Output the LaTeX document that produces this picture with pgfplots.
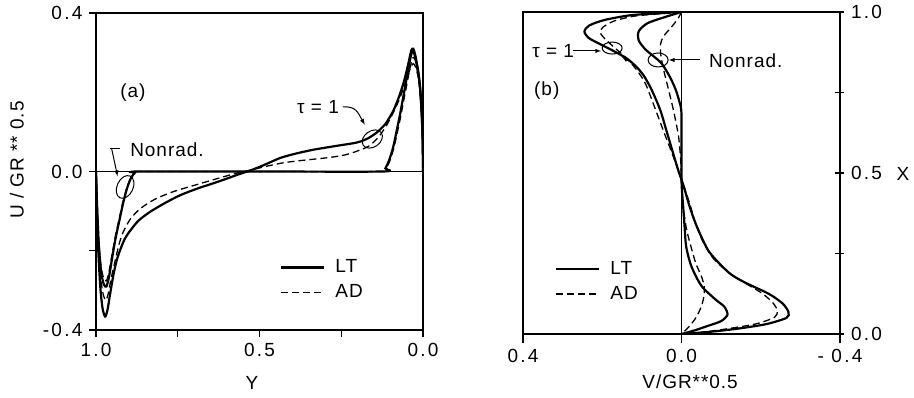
\documentclass[border=0pt]{standalone}
\usepackage{fontspec}
\setmainfont{Liberation Sans}[LetterSpace=5]
\newfontfamily\numfont{Liberation Sans}[LetterSpace=12]
\usepackage{pgfplots}
\pgfplotsset{compat=1.18}
\pgfplotstableread{
Y U
1.000 0.000
0.997 -0.100
0.993 -0.200
0.987 -0.290
0.980 -0.345
0.972 -0.366
0.965 -0.350
0.957 -0.310
0.947 -0.262
0.937 -0.225
0.927 -0.200
0.912 -0.170
0.896 -0.150
0.870 -0.124
0.835 -0.102
0.790 -0.080
0.743 -0.060
0.690 -0.043
0.642 -0.030
0.600 -0.018
0.560 -0.006
0.530 0.002
0.490 0.015
0.437 0.034
0.390 0.045
0.335 0.055
0.270 0.064
0.203 0.073
0.170 0.083
0.142 0.098
0.115 0.120
0.091 0.153
0.075 0.185
0.060 0.222
0.046 0.268
0.036 0.305
0.030 0.310
0.024 0.295
0.015 0.255
0.009 0.215
0.004 0.150
0.001 0.080
0.000 0.000
}\aTauLT
\pgfplotstableread{
Y U
1.000 0.000
0.997 -0.090
0.993 -0.180
0.986 -0.265
0.978 -0.310
0.970 -0.325
0.963 -0.310
0.955 -0.275
0.947 -0.245
0.940 -0.220
0.930 -0.185
0.917 -0.153
0.895 -0.120
0.865 -0.094
0.820 -0.070
0.764 -0.051
0.700 -0.035
0.642 -0.021
0.600 -0.011
0.570 -0.004
0.530 0.003
0.480 0.013
0.427 0.022
0.380 0.027
0.335 0.031
0.280 0.036
0.233 0.043
0.190 0.055
0.162 0.066
0.135 0.088
0.111 0.117
0.090 0.150
0.070 0.187
0.055 0.222
0.045 0.246
0.036 0.265
0.030 0.272
0.024 0.266
0.015 0.240
0.009 0.200
0.004 0.140
0.001 0.070
0.000 0.000
}\aTauAD
\pgfplotstableread{
Y U
1.000 0.000
0.996 -0.100
0.991 -0.190
0.984 -0.255
0.976 -0.285
0.968 -0.290
0.960 -0.265
0.950 -0.215
0.940 -0.168
0.928 -0.122
0.917 -0.080
0.906 -0.045
0.894 -0.018
0.882 -0.004
0.870 0.000
0.500 0.000
0.125 0.000
0.115 0.008
0.103 0.030
0.091 0.062
0.080 0.105
0.070 0.145
0.060 0.190
0.050 0.235
0.042 0.272
0.035 0.298
0.030 0.303
0.024 0.290
0.015 0.250
0.009 0.210
0.004 0.145
0.001 0.075
0.000 0.000
}\aNrLT
\pgfplotstableread{
Y U
1.000 0.000
0.996 -0.095
0.991 -0.180
0.984 -0.243
0.976 -0.270
0.968 -0.276
0.960 -0.252
0.950 -0.205
0.940 -0.160
0.928 -0.115
0.917 -0.075
0.906 -0.042
0.894 -0.017
0.882 -0.004
0.870 0.000
0.500 0.000
0.122 0.000
0.112 0.008
0.100 0.030
0.089 0.060
0.078 0.100
0.068 0.140
0.058 0.183
0.048 0.226
0.040 0.260
0.033 0.283
0.028 0.288
0.022 0.277
0.014 0.242
0.008 0.200
0.004 0.140
0.001 0.070
0.000 0.000
}\aNrAD
\pgfplotstableread{
V X
0.000 1.000
0.044 0.997
0.128 0.990
0.195 0.975
0.233 0.958
0.245 0.940
0.235 0.920
0.205 0.900
0.170 0.878
0.136 0.854
0.110 0.825
0.094 0.800
0.078 0.765
0.065 0.730
0.052 0.690
0.040 0.640
0.028 0.590
0.016 0.540
0.006 0.500
0.000 0.480
-0.010 0.440
-0.022 0.390
-0.040 0.330
-0.070 0.255
-0.120 0.190
-0.160 0.160
-0.220 0.125
-0.255 0.095
-0.270 0.068
-0.265 0.050
-0.215 0.031
-0.150 0.018
-0.090 0.009
-0.035 0.003
0.000 0.000
}\bTauLT
\pgfplotstableread{
V X
0.000 1.000
0.050 0.995
0.120 0.987
0.170 0.972
0.198 0.953
0.205 0.936
0.192 0.915
0.165 0.885
0.135 0.852
0.110 0.815
0.090 0.775
0.069 0.708
0.044 0.626
0.025 0.565
0.010 0.515
0.000 0.480
-0.010 0.445
-0.022 0.400
-0.035 0.345
-0.055 0.285
-0.080 0.235
-0.120 0.190
-0.165 0.155
-0.205 0.125
-0.232 0.095
-0.242 0.072
-0.235 0.052
-0.190 0.032
-0.120 0.017
-0.050 0.005
0.000 0.000
}\bTauAD
\pgfplotstableread{
V X
0.000 1.000
0.040 0.985
0.086 0.965
0.108 0.940
0.108 0.912
0.092 0.885
0.070 0.862
0.050 0.840
0.030 0.800
0.015 0.760
0.005 0.720
0.000 0.680
0.000 0.480
-0.004 0.400
-0.008 0.330
-0.012 0.270
-0.025 0.210
-0.050 0.150
-0.085 0.108
-0.108 0.085
-0.116 0.060
-0.100 0.040
-0.066 0.025
-0.030 0.010
0.000 0.000
}\bNrLT
\pgfplotstableread{
V X
0.000 1.000
0.010 0.977
0.027 0.951
0.045 0.925
0.053 0.900
0.052 0.865
0.045 0.820
0.035 0.770
0.025 0.720
0.016 0.670
0.007 0.610
0.002 0.540
0.000 0.480
-0.004 0.400
-0.012 0.330
-0.022 0.280
-0.036 0.220
-0.050 0.180
-0.057 0.150
-0.057 0.120
-0.050 0.085
-0.036 0.050
-0.017 0.020
0.000 0.000
}\bNrAD
\begin{document}
\fontsize{19}{22}\selectfont
\begin{tikzpicture}
\useasboundingbox (0pt,0pt) rectangle (914pt,397pt);
\pgfplotsset{
  chart/.style={
    scale only axis,
    axis line style={line width=1.7pt},
    every tick/.style={line width=1.4pt, black},
    ticklabel style={font=\numfont\fontsize{19}{22}\selectfont},
    label style={font=\fontsize{19}{22}\selectfont},
    legend image code/.code={\draw[##1] (0pt,0pt) -- (43pt,0pt);},
    legend style={draw=none, fill=none, inner sep=0pt, row sep=5pt, column sep=8pt,
      font=\fontsize{19}{22}\selectfont, cells={anchor=west}},
  },
  lt/.style={black, line width=2.2pt, smooth, tension=0.45},
  ad/.style={black, line width=1.3pt, dash pattern=on 7pt off 4pt, smooth, tension=0.45},
}
% ---------- panel (a)
\begin{axis}[chart,
  at={(96pt,67pt)}, anchor=south west, width=327pt, height=317pt,
  xmin=0, xmax=1, x dir=reverse, ymin=-0.4, ymax=0.4,
  xtick={0,0.5,1}, xticklabels={0.0,0.5,1.0}, minor xtick={0.25,0.75},
  ytick={-0.4,0,0.4}, yticklabels={-0.4,0.0,0.4}, minor ytick={-0.2},
  tick align=outside, xtick pos=bottom, ytick pos=left,
  major tick length=7pt, minor tick length=7pt,
  xlabel={Y}, ylabel={U / GR ** 0.5},
  xlabel style={at={(axis description cs:0.477,-0.167)}, anchor=center},
  ylabel style={at={(axis description cs:-0.242,0.536)}, anchor=center},
  legend style={at={(axis description cs:0.563,0.158)}, anchor=west},
]
\addlegendimage{black, line width=2.2pt}
\addlegendentry{LT}
\addlegendimage{black, line width=1.3pt, dash pattern=on 7pt off 4pt}
\addlegendentry{AD}
\addplot[black, line width=1.7pt, forget plot] coordinates {(0,0) (1,0)};
\addplot[lt, forget plot] table[x=Y,y=U] {\aTauLT};
\addplot[ad, forget plot] table[x=Y,y=U] {\aTauAD};
\addplot[lt, forget plot] table[x=Y,y=U] {\aNrLT};
\addplot[ad, forget plot] table[x=Y,y=U] {\aNrAD};
\node at (axis cs:0.887,0.20) {(a)};
\node at (axis cs:0.783,0.054) {Nonrad.};
\draw[line width=1pt] (axis cs:0.957,0.059) -- (axis cs:0.927,0.059);
\draw[line width=1pt,-latex] (axis cs:0.952,0.057) -- (axis cs:0.934,-0.012);
\draw[line width=1pt, rotate around={-25:(axis cs:0.911,-0.039)}] (axis cs:0.911,-0.039) ellipse [x radius=8pt, y radius=12pt];
\node at (axis cs:0.321,0.163) {τ = 1};
\draw[line width=1pt,-latex] (axis cs:0.245,0.163) .. controls (axis cs:0.205,0.165) and (axis cs:0.2,0.15) .. (axis cs:0.178,0.118);
\draw[line width=1pt, rotate around={35:(axis cs:0.155,0.082)}] (axis cs:0.155,0.082) ellipse [x radius=11pt, y radius=8pt];
\end{axis}
% ---------- panel (b)
\begin{axis}[chart,
  at={(523pt,63pt)}, anchor=south west, width=317pt, height=322pt,
  xmin=-0.4, xmax=0.4, x dir=reverse, ymin=0, ymax=1,
  xtick={-0.4,0,0.4}, xticklabels={- 0.4,0.0,0.4},
  ytick={0,0.5,1}, yticklabels={0.0,0.5,1.0}, minor ytick={0.25,0.75},
  xtick align=outside, ytick align=center,
  xtick pos=bottom, ytick pos=right, yticklabel pos=right,
  major tick length=9pt, minor tick length=9pt,
  xlabel={V/GR**0.5}, ylabel={X},
  xlabel style={at={(axis description cs:0.527,-0.149)}, anchor=center},
  ylabel style={at={(axis description cs:1.199,0.497)}, anchor=center, rotate=-90},
  legend style={at={(axis description cs:0.101,0.163)}, anchor=west},
]
\addlegendimage{black, line width=2.2pt}
\addlegendentry{LT}
\addlegendimage{black, line width=1.3pt, dash pattern=on 7pt off 4pt}
\addlegendentry{AD}
\addplot[black, line width=1.2pt, forget plot] coordinates {(0,0) (0,1)};
\addplot[lt, forget plot] table[x=V,y=X] {\bTauLT};
\addplot[ad, forget plot] table[x=V,y=X] {\bTauAD};
\addplot[lt, forget plot] table[x=V,y=X] {\bNrLT};
\addplot[ad, forget plot] table[x=V,y=X] {\bNrAD};
\node at (axis cs:0.34,0.755) {(b)};
\node at (axis cs:0.324,0.879) {τ = 1};
\draw[line width=1pt,-latex] (axis cs:0.274,0.879) -- (axis cs:0.203,0.879);
\draw[line width=1pt] (axis cs:0.175,0.888) ellipse [x radius=10pt, y radius=6pt];
\draw[line width=1pt,-latex] (axis cs:0.125,0.842) -- (axis cs:0.150,0.860);
\draw[line width=1pt] (axis cs:0.059,0.851) ellipse [x radius=10pt, y radius=7pt];
\draw[line width=1pt,-latex] (axis cs:-0.047,0.851) -- (axis cs:0.032,0.851);
\node[anchor=west] at (axis cs:-0.053,0.848) {Nonrad.};
\end{axis}
\end{tikzpicture}
\end{document}
